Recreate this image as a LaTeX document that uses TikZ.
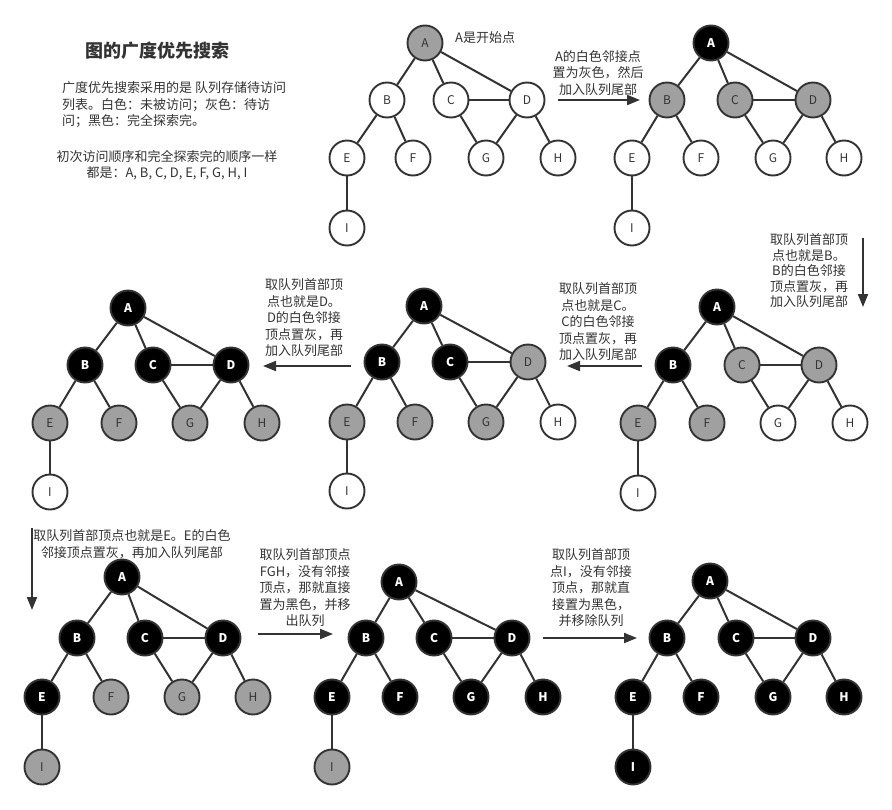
\documentclass[tikz,border=0pt]{standalone}
\usepackage{fontspec}
\setmainfont{Noto Sans CJK SC}
\usetikzlibrary{arrows.meta}
\definecolor{ink}{HTML}{333333}
\definecolor{midgray}{HTML}{A0A0A0}
\tikzset{
 vtx/.style={circle,draw=ink,line width=1.9pt,minimum size=35pt,inner sep=0pt,font=\fontsize{12}{12}\selectfont},
 wn/.style={vtx,fill=white,text=ink},
 gn/.style={vtx,fill=midgray,text=ink},
 bn/.style={vtx,fill=black,text=white,font=\fontsize{12}{12}\selectfont\bfseries},
 edge/.style={draw=ink,line width=2pt},
 flow/.style={draw=ink,line width=2pt,-{Triangle[length=13pt,width=10pt]}},
 note/.style={text=ink,align=center,inner sep=0pt,font=\fontsize{13}{16.5}\selectfont},
}
\newcommand\bfsgraph[2]{%
 \foreach \n/\x/\y/\s in {#2}{\edef\tmpnode{\noexpand\node[\s] (#1\n) at (\x,\y) {\n};}\tmpnode}
 \foreach \u/\v in {A/B,A/C,A/D,B/E,B/F,C/D,C/G,D/G,D/H,E/I}{\draw[edge] (#1\u)--(#1\v);}
}
\begin{document}
\begin{tikzpicture}[x=1pt,y=-1pt]
\useasboundingbox (0,0) rectangle (892,809);
\fill[white] (0,0) rectangle (892,809);

% title and notes
\node[text=ink,inner sep=0pt,font=\fontsize{18}{20}\selectfont\bfseries] (title) at (157,51) {图的广度优先搜索};
\node[note,align=left,anchor=west] (desc) at (62,105) {广度优先搜索采用的是 队列存储待访问\\列表。白色：未被访问；灰色：待访\\问；黑色：完全探索完。};
\node[note,font=\fontsize{13}{15.7}\selectfont] (order) at (167,165) {初次访问顺序和完全探索完的顺序一样\\都是：A, B, C, D, E, F, G, H, I};
\node[note,anchor=west] (start) at (455,38) {A是开始点};

% graphs
\bfsgraph{a}{A/425/43/gn, B/387/100/wn, C/451/100/wn, D/527/100/wn, E/347/158/wn, F/413/158/wn, G/486/158/wn, H/558/158/wn, I/347/228/wn}
\bfsgraph{b}{A/711/43/bn, B/667/100/gn, C/735/100/gn, D/813/100/gn, E/632/158/wn, F/701/158/wn, G/773/158/wn, H/844/158/wn, I/632/228/wn}
\bfsgraph{c}{A/717/307/bn, B/673/365/bn, C/742/365/gn, D/819/365/gn, E/638/423/gn, F/707/423/gn, G/778/423/wn, H/850/423/wn, I/638/493/wn}
\bfsgraph{d}{A/424/306/bn, B/382/362/bn, C/450/362/bn, D/528/362/gn, E/347/422/gn, F/415/422/gn, G/486/422/gn, H/558/422/wn, I/347/491/wn}
\bfsgraph{e}{A/128/308/bn, B/85/365/bn, C/153/365/bn, D/231/365/bn, E/50/423/gn, F/119/423/gn, G/190/423/gn, H/262/423/gn, I/50/492/wn}
\bfsgraph{f}{A/122/577/bn, B/77/638/bn, C/145/638/bn, D/223/638/bn, E/42/697/bn, F/111/697/gn, G/182/697/gn, H/253/697/gn, I/42/767/gn}
\bfsgraph{g}{A/399/582/bn, B/366/638/bn, C/434/638/bn, D/512/638/bn, E/332/697/bn, F/400/697/bn, G/471/697/bn, H/543/697/bn, I/332/767/gn}
\bfsgraph{h}{A/710/581/bn, B/667/638/bn, C/736/638/bn, D/813/638/bn, E/633/697/bn, F/701/697/bn, G/773/697/bn, H/844/697/bn, I/633/767/bn}

% step 1
\coordinate (s1a) at (558,100); \coordinate (s1b) at (640,100);
\draw[flow] (s1a) -- (s1b);
\node[note] (t1) at (598,73) {A的白色邻接点\\置为灰色，然后\\加入队列尾部};
% step 2
\coordinate (s2a) at (863,238); \coordinate (s2b) at (863,307);
\draw[flow] (s2a) -- (s2b);
\node[note,font=\fontsize{13}{15.5}\selectfont] (t2) at (809,271) {取队列首部顶\\点也就是B。\\B的白色邻接\\顶点置灰，再\\加入队列尾部};
% step 3
\coordinate (s3a) at (642,366); \coordinate (s3b) at (567,366);
\draw[flow] (s3a) -- (s3b);
\node[note] (t3) at (598,322) {取队列首部顶\\点也就是C。\\C的白色邻接\\顶点置灰，再\\加入队列尾部};
% step 4
\coordinate (s4a) at (351,366); \coordinate (s4b) at (263,366);
\draw[flow] (s4a) -- (s4b);
\node[note] (t4) at (304,318) {取队列首部顶\\点也就是D。\\D的白色邻接\\顶点置灰，再\\加入队列尾部};
% step 5
\coordinate (s5a) at (32,528); \coordinate (s5b) at (32,610);
\draw[flow] (s5a) -- (s5b);
\node[note] (t5) at (132,544) {取队列首部顶点也就是E。E的白色\\邻接顶点置灰，再加入队列尾部};
% step 6
\coordinate (s6a) at (258,634); \coordinate (s6b) at (333,634);
\draw[flow] (s6a) -- (s6b);
\node[note] (t6) at (305,588) {取队列首部顶点\\FGH，没有邻接\\顶点，那就直接\\置为黑色，并移\\出队列};
% step 7
\coordinate (s7a) at (543,638); \coordinate (s7b) at (637,638);
\draw[flow] (s7a) -- (s7b);
\node[note] (t7) at (591,588) {取队列首部顶\\点I，没有邻接\\顶点，那就直\\接置为黑色，\\并移除队列};
\end{tikzpicture}
\end{document}
